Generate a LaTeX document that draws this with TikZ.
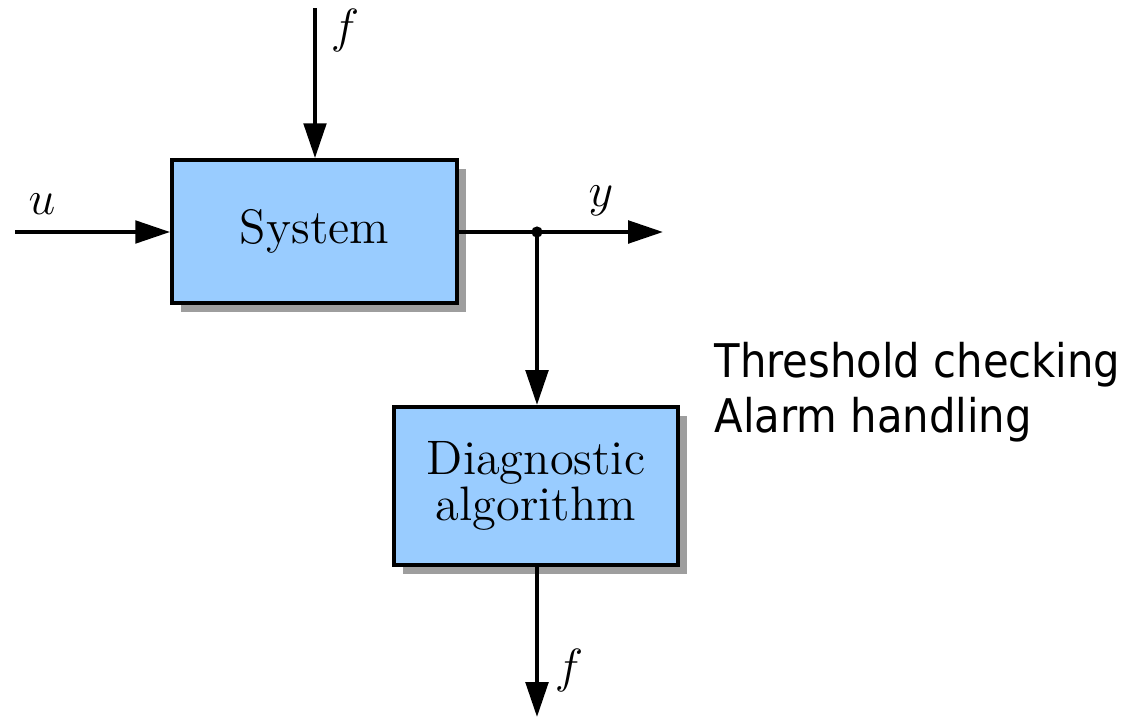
\documentclass[tikz,border=0pt]{standalone}
\usepackage{fontspec}
\newfontfamily\notefont{DejaVu Sans Condensed}
\usetikzlibrary{arrows.meta,shadows}
\definecolor{boxblue}{RGB}{153,204,255}
\tikzset{
  block/.style={draw=black, line width=1pt, fill=boxblue, inner sep=0pt, align=center,
    font=\fontsize{12.1}{11.7}\selectfont,
    drop shadow={shadow xshift=2.2pt, shadow yshift=-2.3pt, fill=black!38, opacity=1}},
  signal/.style={line width=1pt, -{Triangle[length=8.7pt,width=5.6pt]}},
  wire/.style={line width=1pt},
  lbl/.style={font=\fontsize{12}{12}\selectfont, inner sep=0pt},
  note/.style={font=\notefont\fontsize{11.6}{11.6}\selectfont, inner sep=0pt, anchor=base west}
}
\begin{document}
\begin{tikzpicture}[x=0.25pt, y=-0.25pt]
  \useasboundingbox (0,0) rectangle (1137,717);

  % blocks
  \node[block, minimum width=71.2pt, minimum height=35.7pt] (sys) at (314.5,231.5) {System};
  \node[block, minimum width=71pt, minimum height=39.5pt] (diag) at (536,486) {Diagnostic\\algorithm};

  % free ends and branch point
  \coordinate (uin) at (15,232);
  \coordinate (ftop) at (315,8);
  \coordinate (yout) at (663,232);
  \coordinate (br) at (537,232);
  \coordinate (fout) at (537,717);

  % connectors
  \draw[signal] (uin) -- (sys.west |- uin);
  \draw[signal] (ftop) -- (sys.north -| ftop);
  \draw[signal] (sys.east |- br) -- (yout);
  \draw[signal] (br) -- (diag.north -| br);
  \draw[signal] (diag.south -| br) -- (fout);
  \fill (br) circle[radius=1.4pt];

  % signal labels
  \node[lbl] (lu) at (42,204) {$u$};
  \node[lbl] (lf1) at (345,30) {$f$};
  \node[lbl] (ly) at (601,201) {$y$};
  \node[lbl] (lf2) at (569,670) {$f$};

  % side notes
  \node[note] (th1) at (714,377) {Threshold checking};
  \node[note] (th2) at (714,432) {Alarm handling};
\end{tikzpicture}
\end{document}
